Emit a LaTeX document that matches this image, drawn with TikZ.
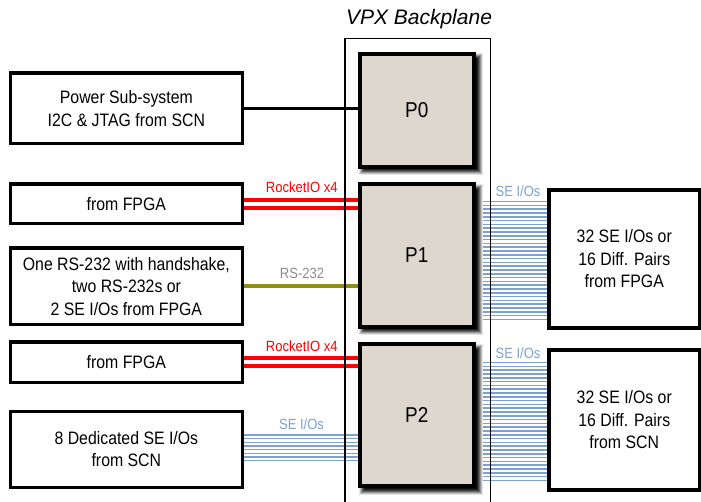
\documentclass[tikz,border=0pt]{standalone}
\usepackage{fontspec}
\setmainfont{Liberation Sans}
\newfontfamily\narrowfont{Liberation Sans}[FakeStretch=0.88]
\usetikzlibrary{calc}
\pgfdeclarelayer{bg}
\pgfdeclarelayer{shadowl}
\pgfsetlayers{bg,shadowl,main}
\definecolor{pfill}{RGB}{221,215,206}
\definecolor{sebl}{RGB}{124,162,210}
\definecolor{olivel}{RGB}{143,143,18}
\definecolor{graylbl}{RGB}{140,140,140}
\definecolor{redl}{RGB}{255,0,0}
\tikzset{
  box/.style={draw=black, line width=3.4pt, fill=white, align=center, inner sep=0pt, outer sep=0pt,
    font=\narrowfont\fontsize{18}{22.5}\selectfont},
  pbox/.style={draw=black, line width=4pt, fill=pfill, inner sep=0pt, outer sep=0pt,
    font=\narrowfont\fontsize{21.5}{24}\selectfont},
  lbl/.style={anchor=base, inner sep=0pt, font=\narrowfont\fontsize{14.8}{16}\selectfont},
  rio/.style={draw=redl, line width=4pt},
  seline/.style={draw=sebl, line width=1.6pt},
}
\begin{document}
\begin{tikzpicture}[x=1pt,y=-1pt]
\useasboundingbox (0,0) rectangle (701,502);
% title
\node[anchor=base, inner sep=0pt, font=\itshape\fontsize{21}{24}\selectfont] (title) at (419,25) {VPX Backplane};
% backplane
\node[draw=black, line width=1.4pt, minimum width=145.7pt, minimum height=482pt, inner sep=0pt, anchor=north west] (bp) at (344.3,38) {};
% left boxes
\node[box, minimum width=231.7pt, minimum height=70.6pt] (pw) at (126.35,108.5) {Power Sub-system\\I2C \& JTAG from SCN};
\node[box, minimum width=231.7pt, minimum height=39.6pt] (fpga1) at (126.35,204) {from FPGA};
\node[box, minimum width=231.7pt, minimum height=76.6pt] (rs) at (126.35,286.5) {One RS-232 with handshake,\\two RS-232s or\\2 SE I/Os from FPGA};
\node[box, minimum width=231.7pt, minimum height=40.7pt] (fpga2) at (126.35,362.3) {from FPGA};
\node[box, minimum width=231.7pt, minimum height=76pt] (ded) at (126.35,449.2) {8 Dedicated SE I/Os\\from SCN};
% right boxes
\node[box, minimum width=150.5pt, minimum height=138pt] (r1) at (624.25,259) {32 SE I/Os or\\16 Diff. Pairs\\from FPGA};
\node[box, minimum width=150.5pt, minimum height=140pt] (r2) at (624.25,420) {32 SE I/Os or\\16 Diff. Pairs\\from SCN};
% P connectors
\node[pbox, minimum width=114.5pt, minimum height=112.7pt] (p0) at (416.75,110.35) {P0};
\node[pbox, minimum width=114.5pt, minimum height=142.4pt] (p1) at (416.75,255.5) {P1};
\node[pbox, minimum width=114.5pt, minimum height=141.7pt] (p2) at (416.75,415.15) {P2};
% shadows of P boxes (solid grey steps, outer to inner)
\begin{pgfonlayer}{shadowl}
\foreach \n in {p0,p1,p2}{
  \foreach \e/\c in {4.5/10,3.5/25,2.5/42,1.5/60,0.5/75,-0.5/87,-1.5/95}{
    \fill[black!\c] ($(\n.north west)+(4-\e,4-\e)$) rectangle ($(\n.south east)+(4+\e,4+\e)$);
  }
}
\end{pgfonlayer}
% connectors
\begin{pgfonlayer}{bg}
\draw[line width=3.8pt] (pw.east) -- (pw.east -| p0.west);
\coordinate (a1) at ([yshift=4pt]fpga1.east);
\coordinate (b1) at ([yshift=-4pt]fpga1.east);
\draw[rio] (a1) -- (a1 -| p1.west);
\draw[rio] (b1) -- (b1 -| p1.west);
\draw[draw=olivel, line width=4pt] (rs.east) -- (rs.east -| p1.west);
\coordinate (a2) at ([yshift=4pt]fpga2.east);
\coordinate (b2) at ([yshift=-4pt]fpga2.east);
\draw[rio] (a2) -- (a2 -| p2.west);
\draw[rio] (b2) -- (b2 -| p2.west);
\foreach \i in {0,...,7}{
  \pgfmathsetmacro\yy{435+\i*3.66}
  \draw[seline] (ded.east |- 0,\yy) -- (p2.west |- 0,\yy);
}
\foreach \i in {0,...,31}{
  \pgfmathsetmacro\yy{201.7+\i*3.8}
  \draw[seline] (p1.east |- 0,\yy) -- (r1.west |- 0,\yy);
  \pgfmathsetmacro\zz{362.5+\i*3.8}
  \draw[seline] (p2.east |- 0,\zz) -- (r2.west |- 0,\zz);
}
\end{pgfonlayer}
% labels
\node[lbl, text=redl] (l1) at (301.7,192.3) {RocketIO x4};
\node[lbl, text=graylbl] (l2) at (302,279) {RS-232};
\node[lbl, text=redl] (l3) at (301.7,351.7) {RocketIO x4};
\node[lbl, text=sebl] (l4) at (301.5,429.3) {SE I/Os};
\node[lbl, text=sebl] (l5) at (518,196.7) {SE I/Os};
\node[lbl, text=sebl] (l6) at (518,358.3) {SE I/Os};
\end{tikzpicture}
\end{document}
